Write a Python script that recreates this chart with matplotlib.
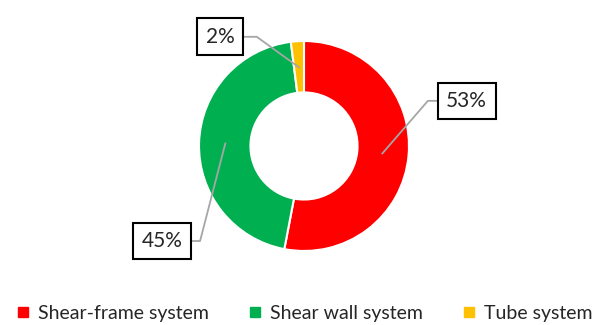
import numpy as np
import matplotlib.pyplot as plt
from matplotlib.lines import Line2D

labels = ["Shear-frame system", "Shear wall system", "Tube system"]
shares = [53, 45, 2]
colours = ["#FF0000", "#00B050", "#FFC000"]
# where each callout box sits (data coords, pie radius = 1) and its elbow
box_xy = [(1.55, 0.43), (-1.35, -0.905), (-0.80, 1.04)]
elbow_xy = [(1.18, 0.43), (-0.99, -0.905), (-0.45, 1.04)]

plt.rcParams["font.family"] = ["Lato", "DejaVu Sans"]

fig = plt.figure(figsize=(6.06, 3.25), dpi=100)
ax = fig.add_axes([0.3284, 0.2277, 0.3465, 0.6462])

wedges, _ = ax.pie(shares, colors=colours, startangle=90, counterclock=False,
                   radius=1.0, wedgeprops=dict(width=0.49, edgecolor="white", linewidth=1.5))
ax.set_xlim(-1, 1)
ax.set_ylim(-1, 1)
ax.set_aspect("equal")

for w, v, bxy, exy in zip(wedges, shares, box_xy, elbow_xy):
    mid = np.deg2rad((w.theta1 + w.theta2) / 2)
    px, py = 0.75 * np.cos(mid), 0.75 * np.sin(mid)
    ax.plot([px, exy[0], bxy[0]], [py, exy[1], exy[1]], color="#A6A6A6", lw=1.3,
            clip_on=False, zorder=3)
    ax.text(bxy[0], bxy[1], f"{v}%", ha="center", va="center", fontsize=15,
            color="#262626", zorder=4,
            bbox=dict(boxstyle="square,pad=0.4", fc="white", ec="black", lw=1.5))

handles = [Line2D([], [], ls="", marker="s", markersize=7, color=c) for c in colours]
fig.legend(handles, labels, loc="lower center", bbox_to_anchor=(0.503, -0.045), ncol=3,
           frameon=False, fontsize=14, handlelength=0.6, handletextpad=0.45,
           columnspacing=2.1, labelcolor="#262626")

fig.savefig("out.png", dpi=100)
